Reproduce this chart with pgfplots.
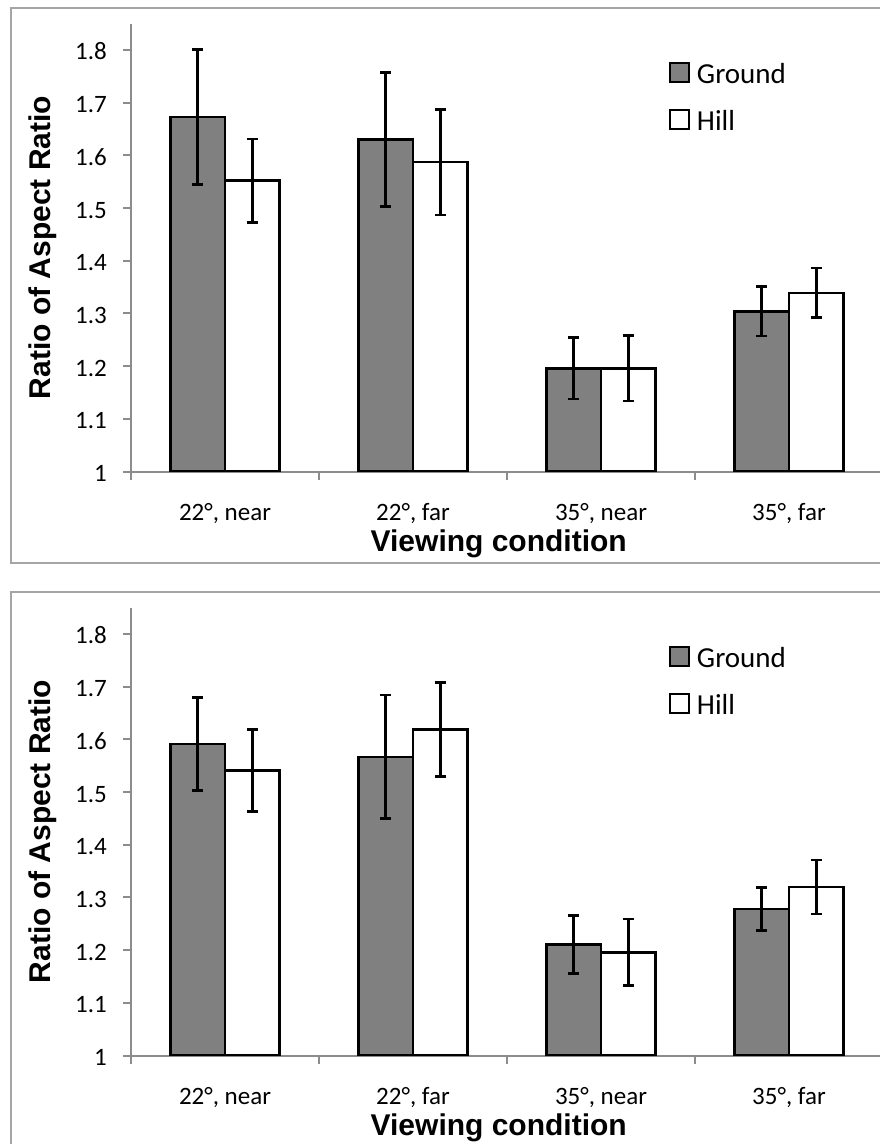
\documentclass[border=0pt]{standalone}
\usepackage{pgfplots}
\pgfplotsset{compat=1.18}
\usepackage{fontspec}
\setmainfont{Carlito}
\newfontfamily\arialfont{Liberation Sans}

\definecolor{groundgray}{RGB}{128,128,128}
\definecolor{axisgray}{RGB}{140,140,140}
\definecolor{framegray}{RGB}{165,165,165}

\pgfplotsset{
  aspectpanel/.style={
    scale only axis, width=752pt, height=448pt,
    anchor=south west,
    xmin=-0.5, xmax=3.5, ymin=1, ymax=1.85,
    axis lines=left,
    axis line style={-, axisgray, line width=2pt},
    ybar=0pt, bar width=0.29,
    tick align=outside, major tick length=8pt,
    tick style={axisgray, line width=2pt},
    xtick={-0.5,0.5,1.5,2.5,3.5}, xticklabels={,,,,},
    extra x ticks={0,1,2,3},
    extra x tick labels={{22°, near},{22°, far},{35°, near},{35°, far}},
    extra x tick style={major tick length=0pt},
    xticklabel style={font=\fontsize{25}{29}\selectfont, inner sep=0pt, anchor=base, yshift=-48.5pt},
    ytick={1,1.1,1.2,1.3,1.4,1.5,1.6,1.7,1.8},
    yticklabels={1,1.1,1.2,1.3,1.4,1.5,1.6,1.7,1.8},
    yticklabel style={font=\fontsize{25}{29}\selectfont, inner sep=0pt, anchor=base east, xshift=-16pt, yshift=-10pt},
    xlabel={Viewing condition},
    xlabel style={font=\arialfont\bfseries\fontsize{30}{34}\selectfont, at={(axis description cs:0.489,-0.1786)}, anchor=base},
    ylabel={Ratio of Aspect Ratio},
    ylabel style={font=\arialfont\bfseries\fontsize{30}{34}\selectfont, at={(axis description cs:-0.1077,0.5)}, anchor=base},
    legend style={draw=none, fill=none, inner sep=0pt, outer sep=0pt,
      at={(axis description cs:0.7154,0.914)}, anchor=north west,
      row sep=19.5pt, column sep=7pt,
      nodes={inner sep=0pt, text height=21pt, text depth=6pt, font=\fontsize{29}{32}\selectfont}},
    legend cell align=left,
  },
  sqlegend/.style={legend image code/.code={\draw[##1, line width=2pt] (0pt,-6pt) rectangle (19pt,13pt);}},
  groundbars/.style={fill=groundgray, draw=black, line width=2.5pt, sqlegend,
    error bars/.cd, y dir=both, y explicit,
    error bar style={line width=2.5pt, black},
    error mark options={rotate=90, line width=2.5pt, black, mark size=5.5pt}},
  hillbars/.style={fill=white, draw=black, line width=2.5pt, sqlegend,
    error bars/.cd, y dir=both, y explicit,
    error bar style={line width=2.5pt, black},
    error mark options={rotate=90, line width=2.5pt, black, mark size=5.5pt}},
}

\begin{document}
\begin{tikzpicture}
\useasboundingbox[fill=white] (0pt,0pt) rectangle (880pt,1144pt);
% panel frames
\draw[framegray, line width=2pt] (11pt,1136pt) rectangle (890pt,581pt);
\draw[framegray, line width=2pt] (11pt,552pt) rectangle (890pt,-10pt);

% top panel
\begin{axis}[aspectpanel, at={(131pt,672.4pt)}]
\addplot[groundbars] coordinates {
  (0,1.673) +- (0,0.128)
  (1,1.630) +- (0,0.127)
  (2,1.196) +- (0,0.058)
  (3,1.304) +- (0,0.047)
};
\addplot[hillbars] coordinates {
  (0,1.552) +- (0,0.079)
  (1,1.587) +- (0,0.100)
  (2,1.196) +- (0,0.062)
  (3,1.339) +- (0,0.047)
};
\legend{Ground, Hill}
\end{axis}

% bottom panel
\begin{axis}[aspectpanel, at={(131pt,88.4pt)}]
\addplot[groundbars] coordinates {
  (0,1.591) +- (0,0.088)
  (1,1.567) +- (0,0.117)
  (2,1.211) +- (0,0.055)
  (3,1.278) +- (0,0.041)
};
\addplot[hillbars] coordinates {
  (0,1.541) +- (0,0.078)
  (1,1.619) +- (0,0.089)
  (2,1.196) +- (0,0.063)
  (3,1.320) +- (0,0.051)
};
\legend{Ground, Hill}
\end{axis}
\end{tikzpicture}
\end{document}
